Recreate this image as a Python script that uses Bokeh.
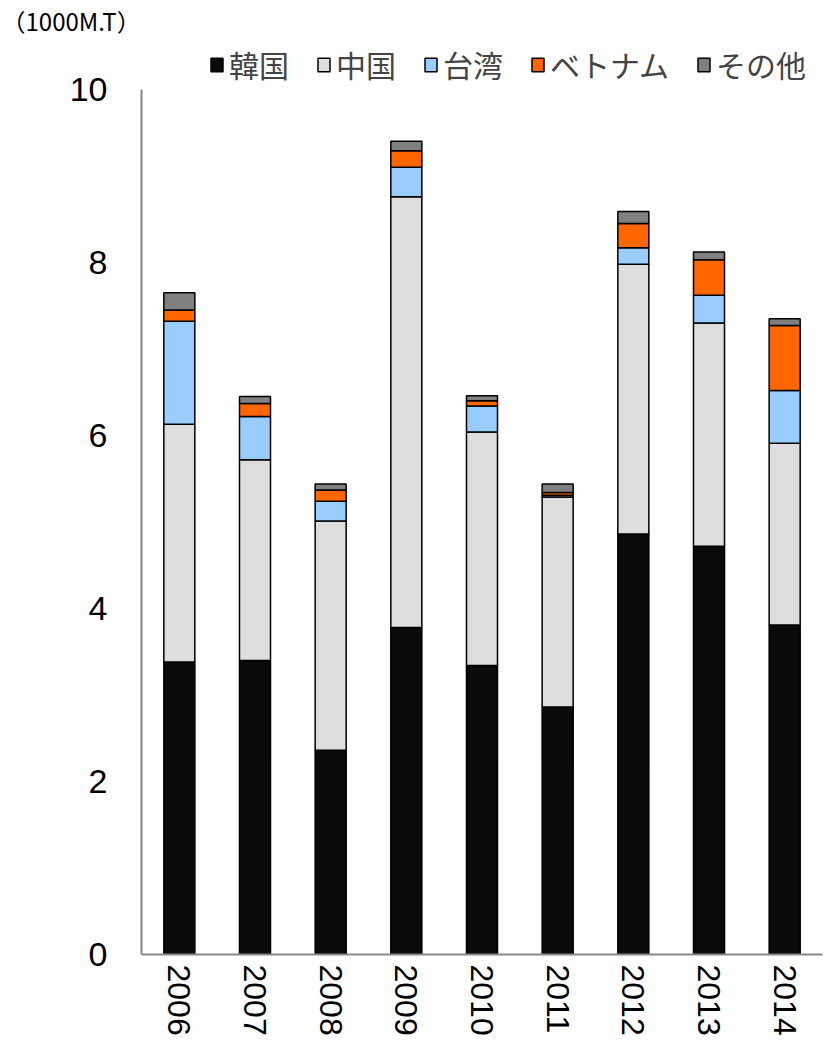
import math
from bokeh.plotting import figure
from bokeh.models import ColumnDataSource, Legend, LegendItem, FactorRange, Range1d, FixedTicker
from bokeh.embed import file_html
from bokeh.resources import INLINE

years = ["2006", "2007", "2008", "2009", "2010", "2011", "2012", "2013", "2014"]
korea = [3.38, 3.40, 2.36, 3.78, 3.34, 2.86, 4.86, 4.72, 3.81]
china = [2.75, 2.32, 2.65, 4.98, 2.70, 2.43, 3.12, 2.58, 2.10]
taiwan = [1.19, 0.50, 0.23, 0.34, 0.30, 0.02, 0.19, 0.32, 0.61]
vietnam = [0.13, 0.15, 0.13, 0.19, 0.06, 0.03, 0.28, 0.41, 0.75]
other = [0.20, 0.08, 0.07, 0.11, 0.06, 0.10, 0.14, 0.09, 0.08]

series = ["korea", "china", "taiwan", "vietnam", "other"]
names = ["韓国", "中国", "台湾", "ベトナム", "その他"]
colors = ["#0a0a0a", "#dddddd", "#99ccff", "#ff6600", "#808080"]

source = ColumnDataSource(dict(years=years, korea=korea, china=china,
                               taiwan=taiwan, vietnam=vietnam, other=other))

H = 1045
TOP = 36
BOTTOM = 954
p = figure(x_range=FactorRange(*years), y_range=Range1d(0, (BOTTOM - TOP) / 86.6),
           width=832, height=H, output_backend="svg", toolbar_location=None,
           min_border_left=141, min_border_top=TOP, min_border_bottom=H - BOTTOM,
           min_border_right=10)

renderers = p.vbar_stack(series, x="years", width=0.41, color=colors,
                         line_color="black", line_width=1.5, source=source)

p.xgrid.grid_line_color = None
p.ygrid.grid_line_color = None
p.outline_line_color = None
p.background_fill_color = "white"
p.border_fill_color = "white"

p.yaxis.ticker = FixedTicker(ticks=[0, 2, 4, 6, 8, 10])
p.yaxis.bounds = (0, 10)
for ax in (p.xaxis[0], p.yaxis[0]):
    ax.axis_line_color = "#888888"
    ax.axis_line_width = 2
    ax.major_tick_line_color = None
    ax.minor_tick_line_color = None
    ax.major_label_text_font = "Liberation Sans"
    ax.major_label_text_color = "black"
p.yaxis.major_label_text_font_size = "34px"
p.yaxis.major_label_standoff = 28
p.xaxis.major_label_text_font_size = "32px"
p.xaxis.major_label_orientation = -math.pi / 2
p.xaxis.major_label_standoff = 4

legend = Legend(items=[LegendItem(label=n, renderers=[r]) for n, r in zip(names, renderers)],
                orientation="horizontal", location=(68, BOTTOM - 86),
                label_text_font="Noto Sans CJK JP", label_text_font_size="30px",
                glyph_width=15, glyph_height=17, label_standoff=5, spacing=27,
                padding=0, margin=0, border_line_color=None,
                background_fill_alpha=0)
p.add_layout(legend)

p.title.text = "（1000M.T）"
p.title.align = "left"
p.title.offset = -140
p.title.standoff = 0
p.title.text_font = "Noto Sans CJK JP"
p.title.text_font_size = "24px"
p.title.text_font_style = "normal"
p.title.text_color = "black"

open("out.html", "w").write(file_html(p, INLINE))
